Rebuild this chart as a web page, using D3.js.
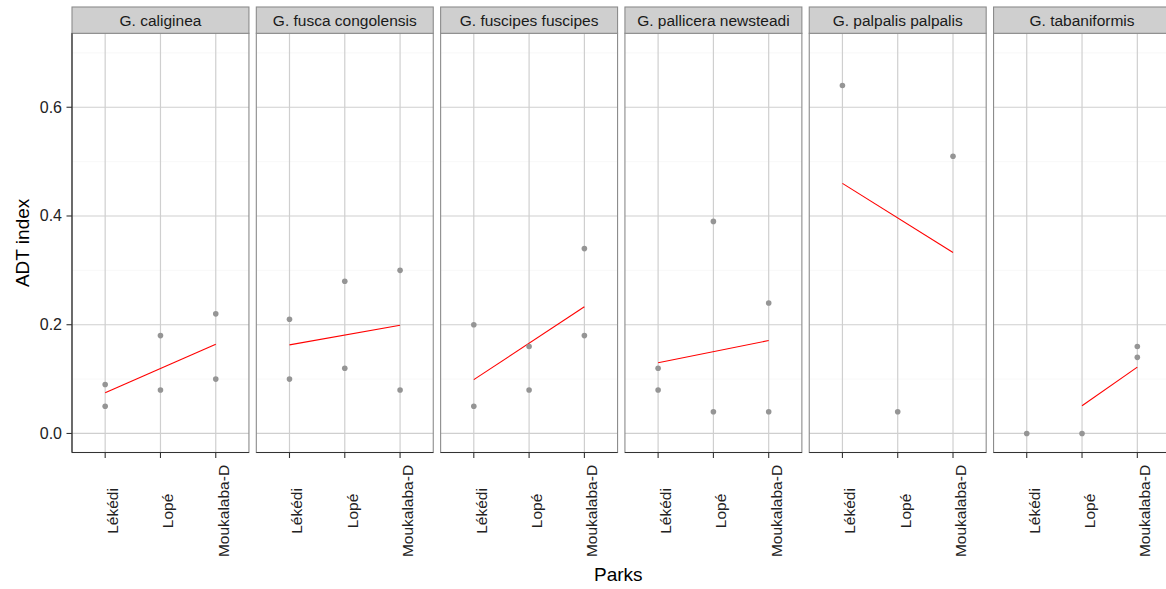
<!DOCTYPE html>
<html>
<head>
<meta charset="utf-8">
<script src="https://cdn.jsdelivr.net/npm/d3@7"></script>
<style>
  body { margin: 0; background: #fff; }
  text { font-family: "Liberation Sans", Arial, sans-serif; }
</style>
</head>
<body>
<div id="chart"></div>
<script>
const species = ['G. caliginea', 'G. fusca congolensis', 'G. fuscipes fuscipes',
  'G. pallicera newsteadi', 'G. palpalis palpalis', 'G. tabaniformis'];
const parks = ['Lékédi', 'Lopé', 'Moukalaba-D'];

// observed ADT index per species, one array per park
const lekediVals = [[0.09, 0.05], [0.21, 0.10], [0.20, 0.05], [0.12, 0.08], [0.64], [0.00]];
const lopeVals = [[0.18, 0.08], [0.28, 0.12], [0.16, 0.08], [0.39, 0.04], [0.04], [0.00]];
const moukalabaVals = [[0.22, 0.10], [0.30, 0.08], [0.34, 0.18], [0.24, 0.04], [0.51], [0.16, 0.14]];

// fitted trend line: first park index, value there, value at Moukalaba-D
const fitFrom = [0, 0, 0, 0, 0, 1];
const fitStart = [0.075, 0.163, 0.099, 0.130, 0.460, 0.051];
const fitEnd = [0.164, 0.199, 0.233, 0.171, 0.333, 0.122];

const yTicks = [0.0, 0.2, 0.4, 0.6];
const yMinor = [0.1, 0.3, 0.5, 0.7];

const width = 1166, height = 589;
const plotTop = 33.3, plotBottom = 452.5, stripTop = 7;
const plotLeft = 72, plotRight = 1170.5;

const svg = d3.select('#chart').append('svg')
  .attr('width', width)
  .attr('height', height);

const fx = d3.scaleBand().domain(species).range([plotLeft, plotRight]).paddingInner(0.04);
const x = d3.scalePoint().domain(parks).range([0, fx.bandwidth()]).padding(0.6);
const y = d3.scaleLinear().domain([-0.035, 0.736]).range([plotBottom, plotTop]);

const allVals = [lekediVals, lopeVals, moukalabaVals];

species.forEach((sp, i) => {
  const g = svg.append('g').attr('transform', `translate(${fx(sp)},0)`);
  const w = fx.bandwidth();

  g.append('rect')
    .attr('x', 0).attr('y', plotTop)
    .attr('width', w).attr('height', plotBottom - plotTop)
    .attr('fill', '#fff');

  g.selectAll('.minor').data(yMinor).enter().append('line')
    .attr('x1', 0).attr('x2', w)
    .attr('y1', d => y(d)).attr('y2', d => y(d))
    .attr('stroke', '#f3f3f3').attr('stroke-width', 0.6);

  g.selectAll('.hmajor').data(yTicks).enter().append('line')
    .attr('x1', 0).attr('x2', w)
    .attr('y1', d => y(d)).attr('y2', d => y(d))
    .attr('stroke', '#cfcfcf').attr('stroke-width', 1.2);

  g.selectAll('.vmajor').data(parks).enter().append('line')
    .attr('x1', d => x(d)).attr('x2', d => x(d))
    .attr('y1', plotTop).attr('y2', plotBottom)
    .attr('stroke', '#cfcfcf').attr('stroke-width', 1.2);

  // trend line
  g.append('line')
    .attr('x1', x(parks[fitFrom[i]])).attr('x2', x(parks[2]))
    .attr('y1', y(fitStart[i])).attr('y2', y(fitEnd[i]))
    .attr('stroke', '#ff0000').attr('stroke-width', 1.1);

  // points
  const pts = [];
  parks.forEach((p, j) => allVals[j][i].forEach(v => pts.push({park: p, v: v})));
  g.selectAll('.pt').data(pts).enter().append('circle')
    .attr('cx', d => x(d.park)).attr('cy', d => y(d.v))
    .attr('r', 2.8).attr('fill', '#959595');

  // panel border
  g.append('rect')
    .attr('x', 0).attr('y', plotTop)
    .attr('width', w).attr('height', plotBottom - plotTop)
    .attr('fill', 'none').attr('stroke', '#8c8c8c').attr('stroke-width', 1.1);

  // strip
  g.append('rect')
    .attr('x', 0).attr('y', stripTop)
    .attr('width', w).attr('height', plotTop - stripTop)
    .attr('fill', '#cfcfcf').attr('stroke', '#8c8c8c').attr('stroke-width', 1.1);
  g.append('text')
    .attr('x', w / 2).attr('y', (stripTop + plotTop) / 2 + 5.5)
    .attr('text-anchor', 'middle')
    .attr('font-size', 15.5).attr('fill', '#1a1a1a')
    .text(sp);

  // bottom axis
  g.append('line')
    .attr('x1', 0).attr('x2', w).attr('y1', plotBottom).attr('y2', plotBottom)
    .attr('stroke', '#333').attr('stroke-width', 1.2);
  g.selectAll('.xt').data(parks).enter().append('line')
    .attr('x1', d => x(d)).attr('x2', d => x(d))
    .attr('y1', plotBottom).attr('y2', plotBottom + 5.5)
    .attr('stroke', '#333').attr('stroke-width', 1.1);
  g.selectAll('.xl').data(parks).enter().append('text')
    .attr('transform', d => `translate(${x(d) + 13},511) rotate(-90)`)
    .attr('text-anchor', 'middle')
    .attr('font-size', 15.5).attr('fill', '#222')
    .text(d => d);
});

// left axis
svg.append('line')
  .attr('x1', plotLeft).attr('x2', plotLeft).attr('y1', plotTop).attr('y2', plotBottom)
  .attr('stroke', '#333').attr('stroke-width', 1.2);
svg.selectAll('.yt').data(yTicks).enter().append('line')
  .attr('x1', plotLeft - 5.5).attr('x2', plotLeft)
  .attr('y1', d => y(d)).attr('y2', d => y(d))
  .attr('stroke', '#333').attr('stroke-width', 1.1);
svg.selectAll('.yl').data(yTicks).enter().append('text')
  .attr('x', plotLeft - 10).attr('y', d => y(d) + 5.5)
  .attr('text-anchor', 'end')
  .attr('font-size', 16).attr('fill', '#222')
  .text(d => d.toFixed(1));

// axis titles
svg.append('text')
  .attr('x', (plotLeft + plotRight) / 2 - 3).attr('y', 581)
  .attr('text-anchor', 'middle')
  .attr('font-size', 19).attr('fill', '#000')
  .text('Parks');
svg.append('text')
  .attr('transform', `translate(29,${(plotTop + plotBottom) / 2}) rotate(-90)`)
  .attr('text-anchor', 'middle')
  .attr('font-size', 19).attr('fill', '#000')
  .text('ADT index');
</script>
</body>
</html>
